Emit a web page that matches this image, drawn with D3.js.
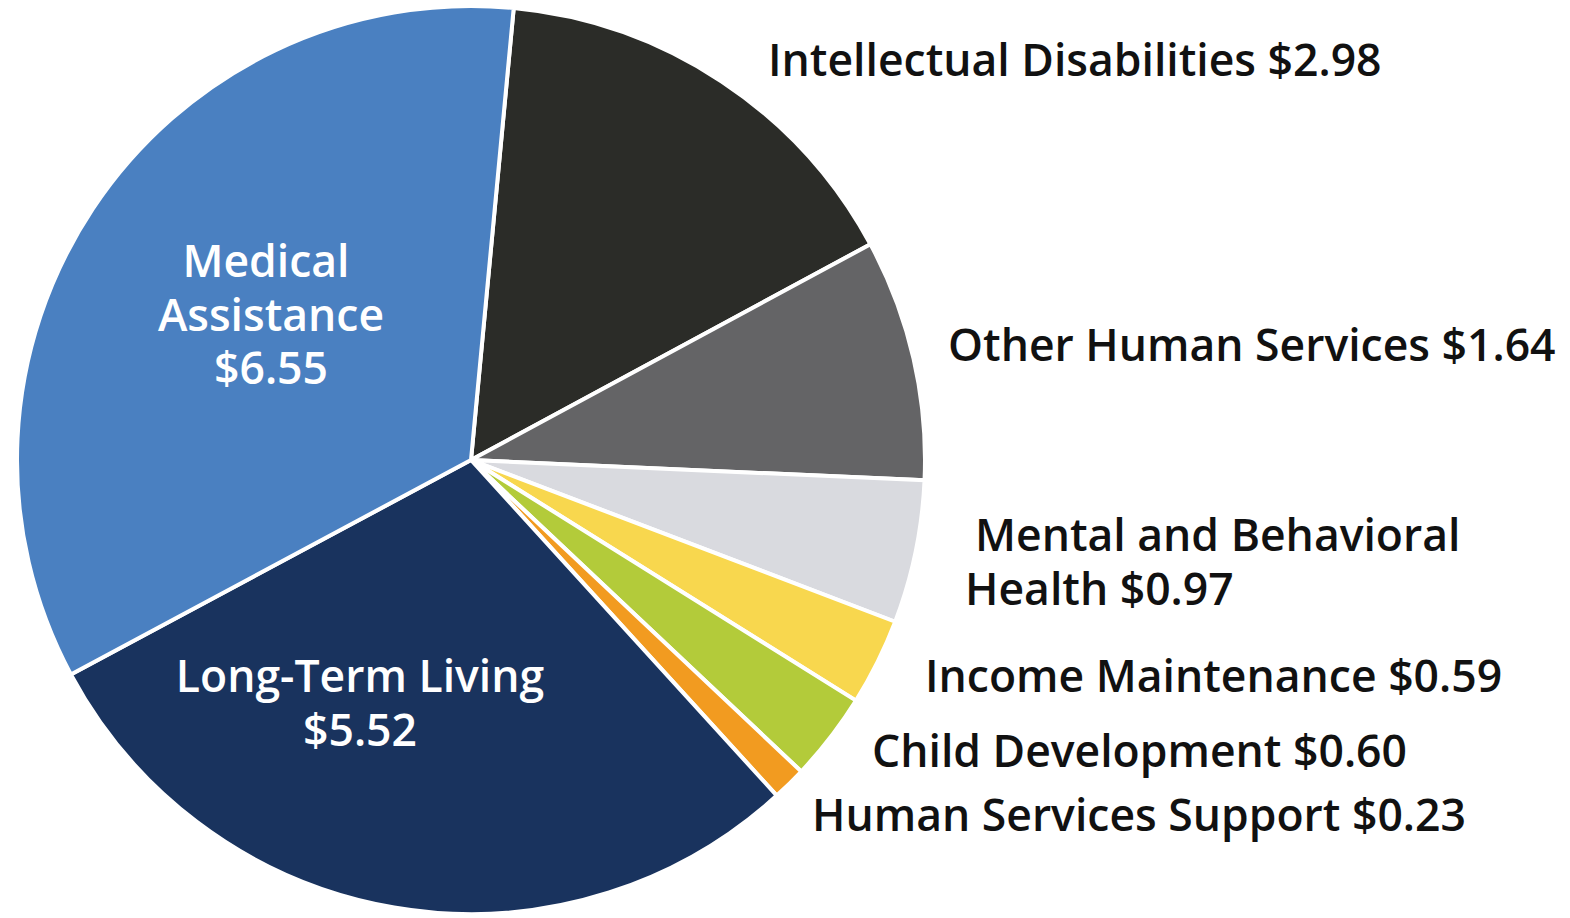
<!DOCTYPE html>
<html>
<head>
<meta charset="utf-8">
<script src="https://cdn.jsdelivr.net/npm/d3@7"></script>
<style>
  html, body { margin: 0; padding: 0; background: #ffffff; }
  svg { display: block; }
  text { font-family: "Open Sans", "Lato", sans-serif; font-weight: 600; }
</style>
</head>
<body>
<svg id="chart" width="1570" height="918"></svg>
<script>
// Department budget by program area ($ billions), clockwise from the top
const categories = [
  "Intellectual Disabilities",
  "Other Human Services",
  "Mental and Behavioral Health",
  "Income Maintenance",
  "Child Development",
  "Human Services Support",
  "Long-Term Living",
  "Medical Assistance"
];
const values = [2.98, 1.64, 0.97, 0.59, 0.60, 0.23, 5.52, 6.55];
const colors = ["#2b2c28", "#646466", "#d9dadf", "#f8d74e", "#b3cb3a", "#f29b20", "#19335e", "#4a80c1"];

// Label text, one array of lines per slice
const labelLines = [
  ["Intellectual Disabilities $2.98"],
  ["Other Human Services $1.64"],
  ["Mental and Behavioral", "Health $0.97"],
  ["Income Maintenance $0.59"],
  ["Child Development $0.60"],
  ["Human Services Support $0.23"],
  ["Long-Term Living", "$5.52"],
  ["Medical", "Assistance", "$6.55"]
];

// Label placement: outside labels are left-aligned, inside labels centred
const labelLayout = [
  { x: 768, y: 76, anchor: "start", fill: "#111111", dx: [0] },
  { x: 948, y: 361, anchor: "start", fill: "#111111", dx: [0] },
  { x: 965, y: 551, anchor: "start", fill: "#111111", dx: [10, 0] },
  { x: 925, y: 692, anchor: "start", fill: "#111111", dx: [0] },
  { x: 872, y: 767, anchor: "start", fill: "#111111", dx: [0] },
  { x: 812, y: 831, anchor: "start", fill: "#111111", dx: [0] },
  { x: 360, y: 692, anchor: "middle", fill: "#ffffff", dx: [0, 0] },
  { x: 271, y: 277, anchor: "middle", fill: "#ffffff", dx: [-5, 0, 0] }
];

const cx = 471, cy = 460, radius = 454;
const startAngle = 5.4 * Math.PI / 180;
const fontSize = 44.5, lineGap = 53.5;

const svg = d3.select("#chart");
const g = svg.append("g").attr("transform", `translate(${cx},${cy})`);

const pie = d3.pie()
  .sort(null)
  .value(d => d.value)
  .startAngle(startAngle)
  .endAngle(startAngle + 2 * Math.PI);

const arc = d3.arc().innerRadius(0).outerRadius(radius);

const data = categories.map((c, i) => ({ name: c, value: values[i], color: colors[i] }));

g.selectAll("path.slice")
  .data(pie(data))
  .join("path")
  .attr("class", "slice")
  .attr("d", arc)
  .attr("fill", d => d.data.color)
  .attr("stroke", "#ffffff")
  .attr("stroke-width", 4)
  .attr("stroke-linejoin", "round");

const labels = svg.append("g").attr("class", "labels");
labelLines.forEach((lines, i) => {
  const L = labelLayout[i];
  const t = labels.append("text")
    .attr("text-anchor", L.anchor)
    .attr("fill", L.fill)
    .attr("font-size", fontSize);
  lines.forEach((line, j) => {
    t.append("tspan")
      .attr("x", L.x + L.dx[j])
      .attr("y", L.y + j * lineGap)
      .text(line);
  });
});
</script>
</body>
</html>
